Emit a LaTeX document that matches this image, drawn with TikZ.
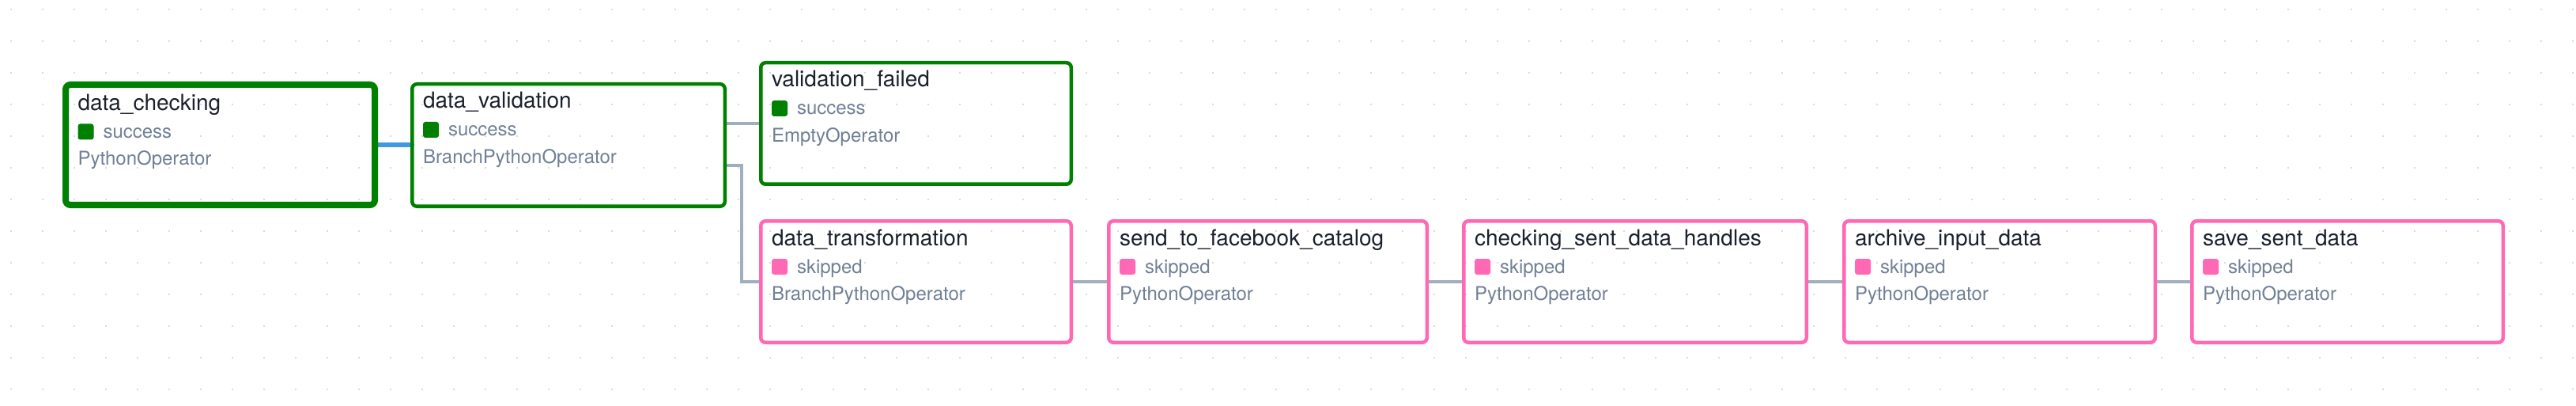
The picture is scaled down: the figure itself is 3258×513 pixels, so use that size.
\documentclass[tikz,border=0pt]{standalone}
\usepackage{fontspec}
\setmainfont{TeX Gyre Heros}
\usetikzlibrary{calc}
\definecolor{okgreen}{HTML}{008000}
\definecolor{skippink}{HTML}{FF69B4}
\definecolor{titlec}{HTML}{1A202C}
\definecolor{subc}{HTML}{718096}
\definecolor{edgec}{HTML}{A0AEC0}
\definecolor{edgeblue}{HTML}{4299E1}
\definecolor{dotc}{HTML}{B8B8B8}
\pgfdeclarelayer{paper}
\pgfdeclarelayer{dots}
\pgfdeclarelayer{edges}
\pgfsetlayers{paper,dots,edges,main}
\tikzset{
  titletext/.style={anchor=base west, inner sep=0pt, outer sep=0pt, text=titlec, font=\fontsize{14}{16}\selectfont},
  statustext/.style={anchor=base west, inner sep=0pt, outer sep=0pt, text=subc, font=\fontsize{12}{14}\selectfont},
  opertext/.style={anchor=base west, inner sep=0pt, outer sep=0pt, text=subc, font=\fontsize{12}{14}\selectfont},
  taskbox/.style={rectangle, rounded corners=3pt, inner sep=0pt, outer sep=0pt},
  greyedge/.style={draw=edgec, line width=2pt},
  blueedge/.style={draw=edgeblue, line width=2.8pt, line cap=round},
}
\newcommand\boxlw{4.5}
\newcommand\tbox[9]{%
  \pgfmathsetmacro\bw{(#4-#2-\boxlw)*0.5}%
  \pgfmathsetmacro\bh{(#5-#3-\boxlw)*0.5}%
  \pgfmathsetmacro\lwpt{\boxlw*0.5}%
  \pgfmathsetmacro\cx{#2+\boxlw+11.5}%
  \pgfmathsetmacro\cy{#3+\boxlw}%
  \node[taskbox, draw=#6, line width=\lwpt pt, minimum width=\bw pt, minimum height=\bh pt] (#1) at ({(#2+#4)/2},{(#3+#5)/2}) {};
  \node[titletext] (#1-t) at (\cx,\cy+28.5) {#7};
  \fill[#6, rounded corners=1.5pt] (\cx,\cy+45.5) rectangle ++(20,20);
  \node[statustext] (#1-s) at (\cx+32,\cy+63.5) {#8};
  \node[opertext] (#1-o) at (\cx,\cy+98) {#9};
}
\begin{document}
\begin{tikzpicture}[x=0.5pt, y=-0.5pt]
\useasboundingbox (0,0) rectangle (3258,513);
\begin{pgfonlayer}{paper}
\fill[white] (0,0) rectangle (3258,513);
\end{pgfonlayer}
\begin{pgfonlayer}{dots}
\foreach \i in {0,...,81}{
  \foreach \j in {0,...,12}{
    \fill[dotc] ({14+40*\i},{12+40*\j}) circle (0.45pt);
  }
}
\end{pgfonlayer}
\renewcommand\boxlw{8}
\tbox{dc}{79}{103}{478}{263}{okgreen}{data\_checking}{success}{PythonOperator}
\renewcommand\boxlw{4.5}
\tbox{dv}{519}{104}{919}{263}{okgreen}{data\_validation}{success}{BranchPythonOperator}
\tbox{vf}{960}{77}{1357}{235}{okgreen}{validation\_failed}{success}{EmptyOperator}
\tbox{dt}{960}{277}{1357}{435}{skippink}{data\_transformation}{skipped}{BranchPythonOperator}
\tbox{sf}{1400}{277}{1807}{435}{skippink}{send\_to\_facebook\_catalog}{skipped}{PythonOperator}
\tbox{cs}{1849}{277}{2287}{435}{skippink}{checking\_sent\_data\_handles}{skipped}{PythonOperator}
\tbox{ai}{2330}{277}{2728}{435}{skippink}{archive\_input\_data}{skipped}{PythonOperator}
\tbox{ss}{2770}{277}{3168}{435}{skippink}{save\_sent\_data}{skipped}{PythonOperator}
\begin{pgfonlayer}{edges}
\draw[blueedge] (dc.east) -- (dc.east -| dv.west);
\draw[greyedge] (dv.east |- vf.west) -- (vf.west);
\coordinate (dvlow) at ($(dv.east)+(0,26)$);
\draw[greyedge] (dvlow) -- ++(21.5,0) |- (dt.west);
\draw[greyedge] (dt.east) -- (sf.west);
\draw[greyedge] (sf.east) -- (cs.west);
\draw[greyedge] (cs.east) -- (ai.west);
\draw[greyedge] (ai.east) -- (ss.west);
\end{pgfonlayer}
\end{tikzpicture}
\end{document}
